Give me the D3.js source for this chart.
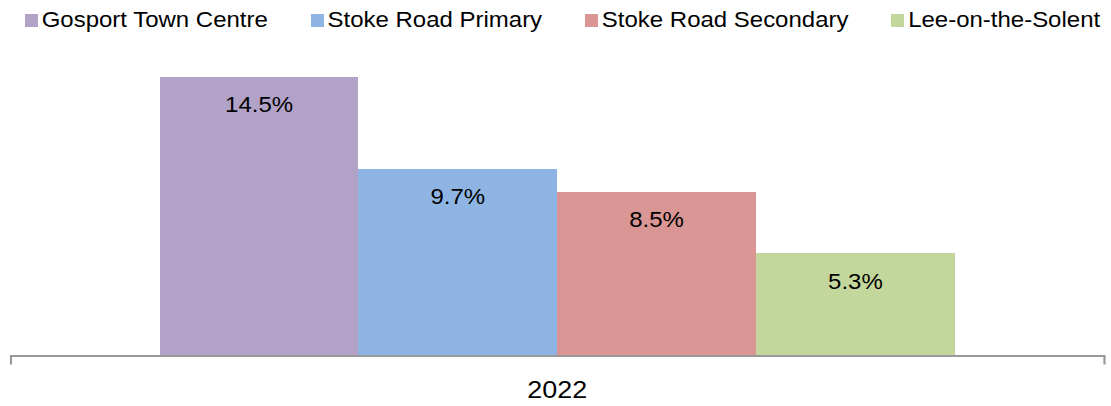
<!DOCTYPE html>
<html>
<head>
<meta charset="utf-8">
<script src="https://cdn.jsdelivr.net/npm/d3@7"></script>
<style>
  html, body { margin: 0; padding: 0; background: #fff; }
  svg { display: block; font-family: "Liberation Sans", Arial, sans-serif; }
</style>
</head>
<body>
<svg id="chart" width="1111" height="406"></svg>
<script>
const categories = ["2022"];
const seriesNames = ["Gosport Town Centre", "Stoke Road Primary", "Stoke Road Secondary", "Lee-on-the-Solent"];
const seriesValues = [14.5, 9.7, 8.5, 5.3];
const seriesColors = ["#B3A2C7", "#8EB4E3", "#D99694", "#C3D69B"];

const W = 1111, H = 406;
const STRETCH = 1.09;
const svg = d3.select("#chart");

function stretch(sel, k) {
  sel.each(function () {
    const len = this.getComputedTextLength();
    d3.select(this).attr("textLength", len * (k || STRETCH)).attr("lengthAdjust", "spacingAndGlyphs");
  });
}

const y = d3.scaleLinear().domain([0, 16]).range([354.5, 48]);
const x0 = d3.scaleBand().domain(categories).range([10.5, 1104]).paddingInner(0).paddingOuter(0.1877);
const x1 = d3.scaleBand().domain(seriesNames).range([0, x0.bandwidth()]).padding(0);

const data = seriesNames.map((s, i) => ({ series: s, value: seriesValues[i], color: seriesColors[i], cat: categories[0] }));

// bars
const g = svg.append("g");
g.selectAll("rect").data(data).join("rect")
  .attr("x", d => x0(d.cat) + x1(d.series))
  .attr("y", d => y(d.value))
  .attr("width", x1.bandwidth())
  .attr("height", d => y(0) - y(d.value))
  .attr("fill", d => d.color)
  .attr("shape-rendering", "crispEdges");

// value labels
g.selectAll("text.val").data(data).join("text")
  .attr("class", "val")
  .attr("x", d => x0(d.cat) + x1(d.series) + x1.bandwidth() / 2)
  .attr("y", d => y(d.value) + 35.6)
  .attr("text-anchor", "middle")
  .attr("font-size", 22)
  .attr("fill", "#000")
  .text(d => d.value.toFixed(1) + "%")
  .call(stretch);

// x axis
const axis = d3.axisBottom(x0).tickSize(0).tickSizeOuter(9).tickPadding(26);
const ax = svg.append("g").attr("transform", `translate(0,${y(0) + 1})`).call(axis);
ax.select(".domain").attr("stroke", "#999").attr("stroke-width", 2.2);
ax.selectAll(".tick line").remove();
ax.selectAll(".tick text")
  .attr("font-size", 24.5)
  .attr("font-family", "Liberation Sans, Arial, sans-serif")
  .attr("fill", "#000")
  .attr("dy", 0)
  .attr("y", 42.2)
  .call(stretch, 1.1);

// legend
const leg = svg.append("g");
let lx = 25;
seriesNames.forEach((s, i) => {
  leg.append("rect").attr("x", lx).attr("y", 14.3).attr("width", 12.7).attr("height", 12.5)
    .attr("fill", seriesColors[i]).attr("shape-rendering", "crispEdges");
  const t = leg.append("text").attr("x", lx + 16.7).attr("y", 27.3)
    .attr("font-size", 22).attr("fill", "#000").text(s);
  t.call(stretch);
  const w = +t.attr("textLength");
  lx = lx + 16.7 + w + 43;
});
</script>
</body>
</html>
